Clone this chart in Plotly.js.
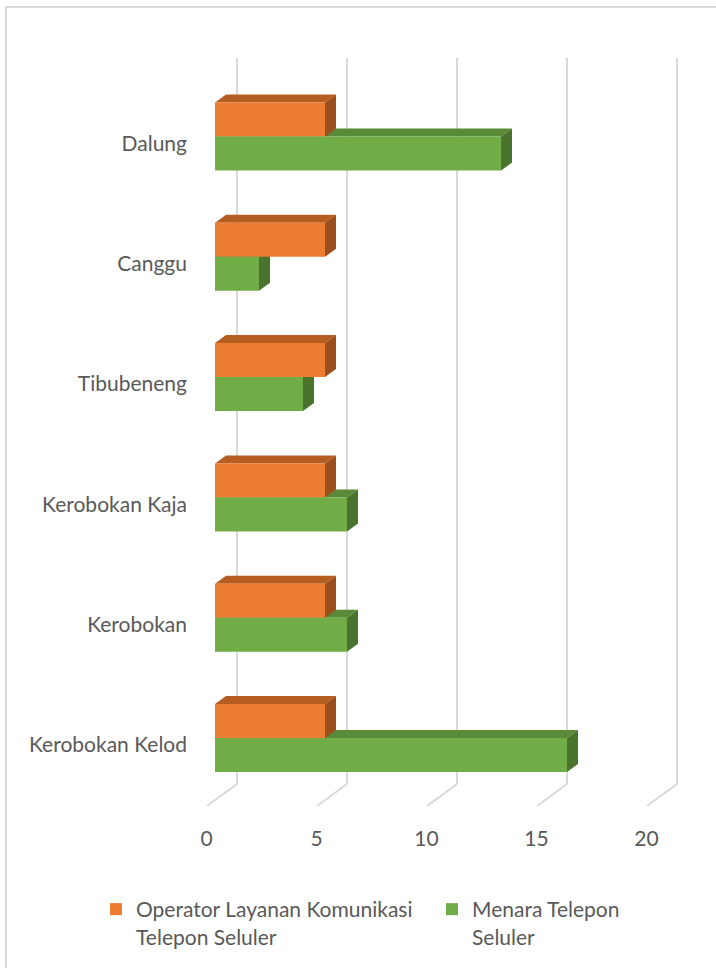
<!DOCTYPE html>
<html>
<head>
<meta charset="utf-8">
<script src="https://cdn.plot.ly/plotly-3.0.1.min.js"></script>
<style>
  html, body { margin: 0; padding: 0; background: #ffffff; }
  #wrap { position: relative; width: 716px; height: 968px; overflow: hidden; }
  #chart { position: absolute; left: 0; top: 0; width: 716px; height: 968px; }
  #frame { position: absolute; left: 5px; top: 6px; width: 760px; height: 1000px;
           border: 2px solid #d9d9d9; pointer-events: none; box-sizing: border-box; }
</style>
</head>
<body>
<div id="wrap">
  <div id="chart"></div>
  <div id="frame"></div>
</div>
<script>
// ---- data (bottom to top, as drawn) ----
const categories = ['Kerobokan Kelod', 'Kerobokan', 'Kerobokan Kaja', 'Tibubeneng', 'Canggu', 'Dalung'];
const operatorValues = [5, 5, 5, 5, 5, 5];
const menaraValues = [16, 6, 6, 4, 2, 13];
const xTickValues = [0, 5, 10, 15, 20];
const seriesNames = ['Operator Layanan Komunikasi<br>Telepon Seluler', 'Menara Telepon<br>Seluler'];

// ---- geometry (pixel-derived, converted to axis units) ----
const PXX = 22;        // px per x unit
const PXY = 120.3;     // px per category
const barH = 34 / PXY; // bar thickness
const dX = 11 / PXX;   // 3D depth offset, x
const dY = 8 / PXY;    // 3D depth offset, y
const yRange = [(738 - 806) / PXY, (738 - 58) / PXY];
const xRange = [-0.5, 21.5];
const wallShift = 1;              // back wall offset (x units)
const floorBack = (738 - 784) / PXY;
const floorDX = -30 / PXX;
const labelShift = 8.5 / PXX;

const col = {
  oFront: '#ED7D31', oTop: '#B65E22', oSide: '#9B4F1D',
  gFront: '#70AD47', gTop: '#588A37', gSide: '#4A742E'
};
const idx = categories.map((c, i) => i);

function poly(pts) {
  return 'M' + pts.map(p => p[0] + ',' + p[1]).join('L') + 'Z';
}

const shapes = [];
// gridlines on the back wall and floor
xTickValues.forEach(v => {
  shapes.push({type: 'line', xref: 'x', yref: 'y', layer: 'below',
    x0: v + wallShift, x1: v + wallShift, y0: floorBack, y1: yRange[1],
    line: {color: '#D9D9D9', width: 2}});
  shapes.push({type: 'line', xref: 'x', yref: 'y', layer: 'below',
    x0: v + wallShift, x1: v + wallShift + floorDX, y0: floorBack, y1: yRange[0],
    line: {color: '#D9D9D9', width: 2}});
});
function faces(vals, offset, topC, sideC) {
  vals.forEach((v, i) => {
    const y0 = i + offset, y1 = i + offset + barH;
    shapes.push({type: 'path', xref: 'x', yref: 'y', layer: 'below', line: {width: 0}, fillcolor: topC,
      path: poly([[0, y1], [v, y1], [v + dX, y1 + dY], [dX, y1 + dY]])});
    shapes.push({type: 'path', xref: 'x', yref: 'y', layer: 'below', line: {width: 0}, fillcolor: sideC,
      path: poly([[v, y0], [v, y1], [v + dX, y1 + dY], [v + dX, y0 + dY]])});
  });
}
faces(menaraValues, -barH, col.gTop, col.gSide);
faces(operatorValues, 0, col.oTop, col.oSide);

const font = {family: 'Lato, "Open Sans", sans-serif', size: 21, color: '#595959'};

const traces = [
  {type: 'bar', orientation: 'h', name: seriesNames[0], x: operatorValues, y: idx,
   width: barH, offset: 0, marker: {color: col.oFront, line: {width: 0}}, hoverinfo: 'x',
   legend: 'legend'},
  {type: 'bar', orientation: 'h', name: seriesNames[1], x: menaraValues, y: idx,
   width: barH, offset: -barH, marker: {color: col.gFront, line: {width: 0}}, hoverinfo: 'x',
   legend: 'legend2'},
  {type: 'scatter', mode: 'none', x: [0], y: [0], xaxis: 'x2', yaxis: 'y',
   showlegend: false, hoverinfo: 'skip'}
];

const legendBase = {xref: 'container', yref: 'container', xanchor: 'left', yanchor: 'top',
  valign: 'top', font: font, bgcolor: 'rgba(0,0,0,0)', orientation: 'v'};

const layout = {
  width: 716, height: 968,
  margin: {l: 204, r: 28, t: 58, b: 162, autoexpand: false},
  paper_bgcolor: '#ffffff', plot_bgcolor: 'rgba(0,0,0,0)',
  barmode: 'overlay',
  font: font,
  showlegend: true,
  xaxis: {range: xRange, showgrid: false, zeroline: false, showticklabels: false,
          showline: false, ticks: '', fixedrange: true, automargin: false},
  xaxis2: {overlaying: 'x', anchor: 'y', side: 'bottom',
           range: [xRange[0] + labelShift, xRange[1] + labelShift],
           tickmode: 'array', tickvals: xTickValues, ticktext: xTickValues.map(String),
           showgrid: false, zeroline: false, showline: false, ticks: '',
           ticklabelstandoff: 18, tickfont: font, fixedrange: true, automargin: false},
  yaxis: {range: yRange, showgrid: false, zeroline: false, showline: false, ticks: '',
          tickmode: 'array', tickvals: idx.map(i => i - 7 / PXY), ticktext: categories,
          ticklabelstandoff: 16, tickfont: font, fixedrange: true, automargin: false},
  legend: Object.assign({}, legendBase, {x: 96 / 716, y: 1 - 889 / 968}),
  legend2: Object.assign({}, legendBase, {x: 432 / 716, y: 1 - 889 / 968}),
  shapes: shapes
};

Plotly.newPlot('chart', traces, layout, {displayModeBar: false, staticPlot: true});
</script>
</body>
</html>
